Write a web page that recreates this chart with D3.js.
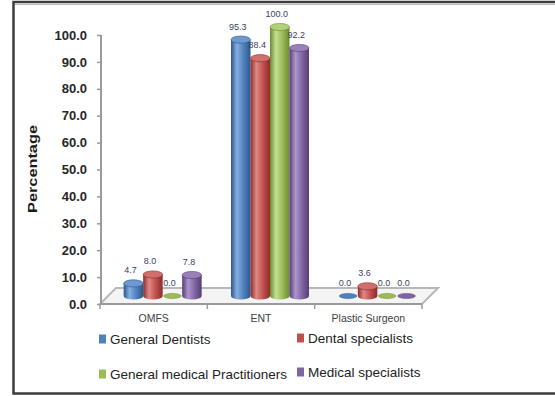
<!DOCTYPE html>
<html>
<head>
<meta charset="utf-8">
<script src="https://cdn.jsdelivr.net/npm/d3@7"></script>
<style>
  html, body { margin: 0; padding: 0; background: #fff; }
  svg { display: block; }
</style>
</head>
<body>
<div id="chart"></div>
<script>
// Share of each group referring to each specialty (percent)
const categories = ["OMFS", "ENT", "Plastic Surgeon"];
const seriesNames = ["General Dentists", "Dental specialists", "General medical Practitioners", "Medical specialists"];
const generalDentists = [4.7, 95.3, 0.0];
const dentalSpecialists = [8.0, 88.4, 3.6];
const generalMedical = [0.0, 100.0, 0.0];
const medicalSpecialists = [7.8, 92.2, 0.0];
const yTicks = [0, 10, 20, 30, 40, 50, 60, 70, 80, 90, 100];

const seriesValues = [generalDentists, dentalSpecialists, generalMedical, medicalSpecialists];
const palette = [
  { base: "#4F81BD", dark: "#2b578c", light: "#86aee0", top: "#6e99d0" },
  { base: "#C0504D", dark: "#8a2c2a", light: "#e08885", top: "#d06f6c" },
  { base: "#9BBB59", dark: "#6a8a2e", light: "#c6df93", top: "#b2d07a" },
  { base: "#8064A2", dark: "#553e75", light: "#ad95cc", top: "#9880b9" }
];

const W = 555, H = 396;
const svg = d3.select("#chart").append("svg").attr("width", W).attr("height", H);

// Outer frame
svg.append("rect").attr("x", 13.5).attr("y", 2).attr("width", 560).attr("height", 391.5)
  .attr("fill", "#fff").attr("stroke", "#3c3c3c").attr("stroke-width", 2.5);
svg.append("line").attr("x1", 15).attr("x2", 560).attr("y1", 4.5).attr("y2", 4.5)
  .attr("stroke", "#bdbdbd").attr("stroke-width", 1);

// Scales
const x0 = d3.scaleBand().domain(categories).range([100, 422]).paddingInner(0).paddingOuter(0);
const y = d3.scaleLinear().domain([0, 100]).range([304, 35]);
const depth = { dx: 16, dy: -16 };      // floor depth vector
const mid = { dx: 9, dy: -8 };          // bars stand half-way into the floor
const groupW = 78;
const x1 = d3.scaleBand().domain(seriesNames).range([0, groupW]);

// Gradients for cylinder bodies
const defs = svg.append("defs");
palette.forEach((p, i) => {
  const g = defs.append("linearGradient").attr("id", "cyl" + i)
    .attr("x1", "0%").attr("x2", "100%").attr("y1", "0%").attr("y2", "0%");
  g.append("stop").attr("offset", "0%").attr("stop-color", p.dark);
  g.append("stop").attr("offset", "30%").attr("stop-color", p.light);
  g.append("stop").attr("offset", "65%").attr("stop-color", p.base);
  g.append("stop").attr("offset", "100%").attr("stop-color", p.dark);
});

// Floor plate
const fl = [
  [x0.range()[0], y(0)],
  [x0.range()[1], y(0)],
  [x0.range()[1] + depth.dx, y(0) + depth.dy],
  [x0.range()[0] + depth.dx, y(0) + depth.dy]
];
svg.append("path").attr("d", "M" + fl.map(p => p.join(",")).join("L") + "Z")
  .attr("fill", "#f4f4f4").attr("stroke", "#b8b8b8").attr("stroke-width", 2);

// Y axis
const yAxis = d3.axisLeft(y).tickValues(yTicks).tickFormat(d3.format(".1f")).tickSize(4).tickPadding(10);
const gy = svg.append("g").attr("transform", "translate(101,0)").call(yAxis);
gy.select(".domain").attr("stroke", "#9a9a9a").attr("stroke-width", 2).attr("d", `M0,${y(100)}V${y(0)}`);
gy.selectAll(".tick line").attr("stroke", "#9a9a9a").attr("stroke-width", 1.5);
gy.selectAll(".tick text").attr("font-family", "'Liberation Sans', Arial, sans-serif")
  .attr("font-size", 13).attr("font-weight", "bold").attr("fill", "#262626");

// X axis
const gx = svg.append("g").attr("transform", `translate(0,${y(0)})`);
gx.append("line").attr("x1", x0.range()[0]).attr("x2", x0.range()[1]).attr("y1", 0).attr("y2", 0)
  .attr("stroke", "#9a9a9a").attr("stroke-width", 2);
const bounds = categories.map(c => x0(c)).concat([x0.range()[1]]);
gx.selectAll("line.tk").data(bounds).join("line").attr("class", "tk")
  .attr("x1", d => d).attr("x2", d => d).attr("y1", 0).attr("y2", 5)
  .attr("stroke", "#9a9a9a").attr("stroke-width", 1.5);
gx.selectAll("text").data(categories).join("text")
  .attr("x", d => x0(d) + x0.bandwidth() / 2).attr("y", 18)
  .attr("text-anchor", "middle")
  .attr("font-family", "'Liberation Sans', Arial, sans-serif").attr("font-size", 10.5)
  .attr("fill", "#404040").text(d => d);

// Axis title
svg.append("text").attr("transform", "translate(37,169) rotate(-90)")
  .attr("text-anchor", "middle")
  .attr("font-family", "'Liberation Sans', Arial, sans-serif").attr("font-size", 12)
  .attr("font-weight", "bold").attr("fill", "#1a1a1a")
  .attr("textLength", 88).attr("lengthAdjust", "spacingAndGlyphs")
  .text("Percentage");

// Cylinders
const rx = x1.bandwidth() / 2, ry = 3.6;
const baseY = y(0) + mid.dy;
const bars = [];
categories.forEach((c, ci) => {
  seriesNames.forEach((s, si) => {
    const v = seriesValues[si][ci];
    const cx = x0(c) + x0.bandwidth() / 2 - groupW / 2 + mid.dx + x1(s) + rx;
    bars.push({ c, s, si, v, cx, top: y(v) + mid.dy });
  });
});

const gb = svg.append("g");
bars.forEach(b => {
  const p = palette[b.si];
  const g = gb.append("g");
  if (b.v > 0) {
    g.append("path")
      .attr("d", `M${b.cx - rx},${b.top} L${b.cx - rx},${baseY} A${rx},${ry} 0 0 0 ${b.cx + rx},${baseY} L${b.cx + rx},${b.top} Z`)
      .attr("fill", `url(#cyl${b.si})`);
    g.append("ellipse").attr("cx", b.cx).attr("cy", b.top).attr("rx", rx).attr("ry", ry)
      .attr("fill", p.top).attr("stroke", p.dark).attr("stroke-width", 0.6);
  } else {
    g.append("ellipse").attr("cx", b.cx).attr("cy", baseY).attr("rx", rx - 1).attr("ry", ry - 1)
      .attr("fill", p.base).attr("stroke", p.dark).attr("stroke-width", 0.5);
  }
});

// Value labels
svg.append("g").selectAll("text").data(bars).join("text")
  .attr("x", d => d.cx - 3).attr("y", d => d.top - 10)
  .attr("text-anchor", "middle")
  .attr("font-family", "'Liberation Sans', Arial, sans-serif").attr("font-size", 9)
  .attr("fill", "#3b3f5c").text(d => d3.format(".1f")(d.v));

// Legend
const legendPos = [[99, 339], [297, 338], [99, 374], [297, 372]];
const gl = svg.append("g");
seriesNames.forEach((s, i) => {
  const [lx, ly] = legendPos[i];
  gl.append("rect").attr("x", lx).attr("y", ly - 4.5).attr("width", 7).attr("height", 9)
    .attr("fill", palette[i].base);
  gl.append("text").attr("x", lx + 11).attr("y", ly + 5)
    .attr("font-family", "'Liberation Sans', Arial, sans-serif").attr("font-size", 13.5)
    .attr("fill", "#222").text(s);
});
</script>
</body>
</html>
